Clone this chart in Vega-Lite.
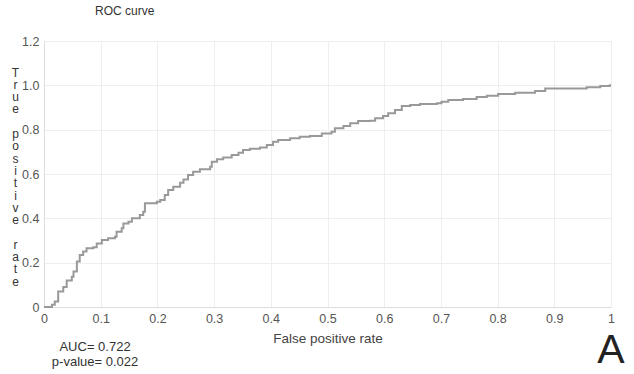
{
  "$schema": "https://vega.github.io/schema/vega-lite/v6.json",
  "width": 567,
  "height": 266,
  "autosize": {"type": "none"},
  "padding": {"left": 44, "top": 41, "right": 23, "bottom": 67},
  "background": "white",
  "title": {"text": "ROC curve", "anchor": "start", "frame": "group", "dx": 51, "offset": 17, "fontSize": 12, "fontWeight": "normal", "color": "#333", "font": "Liberation Sans"},
  "config": {
    "font": "Liberation Sans",
    "view": {"stroke": null},
    "axis": {"gridColor": "#eeeeee", "domainColor": "#dddddd", "ticks": false, "labelColor": "#555", "labelFontSize": 12.5, "titleColor": "#444", "titleFontSize": 13.5, "titleFontWeight": "normal", "labelPadding": 5}
  },
  "datasets": {
    "roc": [
      {"fpr": 0, "tpr": 0}, {"fpr": 0.014, "tpr": 0.01}, {"fpr": 0.019, "tpr": 0.025}, {"fpr": 0.025, "tpr": 0.07},
      {"fpr": 0.034, "tpr": 0.09}, {"fpr": 0.04, "tpr": 0.12}, {"fpr": 0.049, "tpr": 0.137}, {"fpr": 0.052, "tpr": 0.16},
      {"fpr": 0.058, "tpr": 0.205}, {"fpr": 0.063, "tpr": 0.235}, {"fpr": 0.069, "tpr": 0.25}, {"fpr": 0.075, "tpr": 0.265},
      {"fpr": 0.087, "tpr": 0.27}, {"fpr": 0.093, "tpr": 0.287}, {"fpr": 0.102, "tpr": 0.302}, {"fpr": 0.113, "tpr": 0.31},
      {"fpr": 0.125, "tpr": 0.317}, {"fpr": 0.128, "tpr": 0.34}, {"fpr": 0.137, "tpr": 0.355}, {"fpr": 0.14, "tpr": 0.377},
      {"fpr": 0.149, "tpr": 0.385}, {"fpr": 0.155, "tpr": 0.4}, {"fpr": 0.169, "tpr": 0.415}, {"fpr": 0.175, "tpr": 0.43},
      {"fpr": 0.178, "tpr": 0.468}, {"fpr": 0.199, "tpr": 0.475}, {"fpr": 0.205, "tpr": 0.483}, {"fpr": 0.213, "tpr": 0.505},
      {"fpr": 0.219, "tpr": 0.528}, {"fpr": 0.228, "tpr": 0.543}, {"fpr": 0.24, "tpr": 0.56}, {"fpr": 0.246, "tpr": 0.575},
      {"fpr": 0.254, "tpr": 0.595}, {"fpr": 0.263, "tpr": 0.61}, {"fpr": 0.275, "tpr": 0.621}, {"fpr": 0.293, "tpr": 0.633},
      {"fpr": 0.296, "tpr": 0.655}, {"fpr": 0.305, "tpr": 0.666}, {"fpr": 0.316, "tpr": 0.675}, {"fpr": 0.331, "tpr": 0.686},
      {"fpr": 0.343, "tpr": 0.696}, {"fpr": 0.351, "tpr": 0.708}, {"fpr": 0.363, "tpr": 0.714}, {"fpr": 0.381, "tpr": 0.72},
      {"fpr": 0.393, "tpr": 0.731}, {"fpr": 0.404, "tpr": 0.746}, {"fpr": 0.413, "tpr": 0.753}, {"fpr": 0.434, "tpr": 0.761},
      {"fpr": 0.451, "tpr": 0.768}, {"fpr": 0.469, "tpr": 0.771}, {"fpr": 0.49, "tpr": 0.783}, {"fpr": 0.507, "tpr": 0.791},
      {"fpr": 0.513, "tpr": 0.806}, {"fpr": 0.528, "tpr": 0.816}, {"fpr": 0.54, "tpr": 0.829}, {"fpr": 0.554, "tpr": 0.839},
      {"fpr": 0.575, "tpr": 0.84}, {"fpr": 0.584, "tpr": 0.851}, {"fpr": 0.598, "tpr": 0.862}, {"fpr": 0.607, "tpr": 0.874},
      {"fpr": 0.619, "tpr": 0.889}, {"fpr": 0.631, "tpr": 0.907}, {"fpr": 0.646, "tpr": 0.911}, {"fpr": 0.663, "tpr": 0.916},
      {"fpr": 0.693, "tpr": 0.919}, {"fpr": 0.701, "tpr": 0.926}, {"fpr": 0.713, "tpr": 0.934}, {"fpr": 0.739, "tpr": 0.938},
      {"fpr": 0.763, "tpr": 0.947}, {"fpr": 0.781, "tpr": 0.953}, {"fpr": 0.801, "tpr": 0.961}, {"fpr": 0.831, "tpr": 0.967},
      {"fpr": 0.866, "tpr": 0.974}, {"fpr": 0.884, "tpr": 0.986}, {"fpr": 0.939, "tpr": 0.986}, {"fpr": 0.957, "tpr": 0.991},
      {"fpr": 0.981, "tpr": 0.997}, {"fpr": 0.998, "tpr": 1.0}, {"fpr": 1.0, "tpr": 1.0}
    ],
    "notes": [
      {"fpr": 0.09, "tpr": -0.18, "label": "AUC= 0.722"},
      {"fpr": 0.09, "tpr": -0.248, "label": "p-value= 0.022"}
    ],
    "letter": [
      {"fpr": 1.0, "tpr": -0.2, "label": "A"}
    ]
  },
  "layer": [
    {
      "data": {"name": "roc"},
      "mark": {"type": "line", "interpolate": "step-after", "color": "#999999", "strokeWidth": 2},
      "encoding": {
        "x": {"field": "fpr", "type": "quantitative", "scale": {"domain": [0, 1], "nice": false},
          "axis": {"title": "False positive rate", "tickCount": 10, "format": ".1~f", "titlePadding": 7, "labelFlush": false}},
        "y": {"field": "tpr", "type": "quantitative", "scale": {"domain": [0, 1.2], "nice": false},
          "axis": {"tickCount": 6, "labelExpr": "datum.value == 0 ? '0' : format(datum.value, '.1f')",
            "title": ["T", "r", "u", "e", "\u200b", "p", "o", "s", "i", "t", "i", "v", "e", "\u200b", "r", "a", "t", "e"],
            "titleAngle": 0, "titleX": -29, "titleY": 26, "titleAlign": "center", "titleBaseline": "top", "titleFontSize": 12, "titleLineHeight": 12.3, "titleColor": "#333", "labelFlush": false}}
      }
    },
    {
      "data": {"name": "notes"},
      "mark": {"type": "text", "fontSize": 13, "color": "#333", "align": "center", "baseline": "middle"},
      "encoding": {
        "x": {"field": "fpr", "type": "quantitative"},
        "y": {"field": "tpr", "type": "quantitative"},
        "text": {"field": "label"}
      }
    },
    {
      "data": {"name": "letter"},
      "mark": {"type": "text", "fontSize": 41, "color": "#222", "align": "center", "baseline": "middle"},
      "encoding": {
        "x": {"field": "fpr", "type": "quantitative"},
        "y": {"field": "tpr", "type": "quantitative"},
        "text": {"field": "label"}
      }
    }
  ]
}
